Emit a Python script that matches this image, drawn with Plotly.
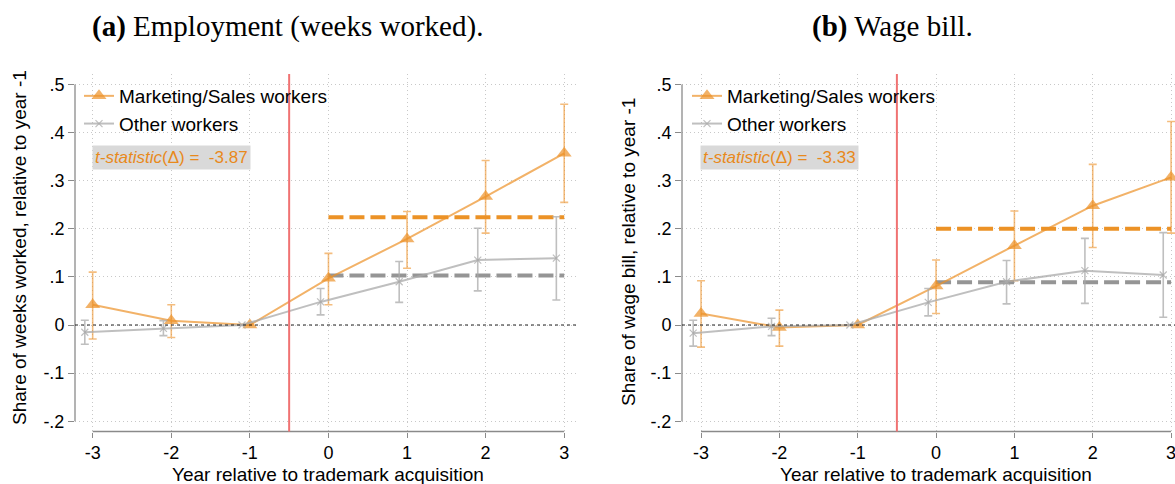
import plotly.graph_objects as go

# Event-time grid
years = [-3, -2, -1, 0, 1, 2, 3]

# (a) Employment: share of weeks worked relative to year -1
emp_mkt = [0.042, 0.009, 0.0, 0.097, 0.179, 0.267, 0.357]
emp_mkt_hi = [0.110, 0.042, 0.0, 0.149, 0.236, 0.342, 0.459]
emp_mkt_lo = [-0.029, -0.026, 0.0, 0.042, 0.118, 0.191, 0.255]
emp_oth = [-0.015, -0.007, 0.0, 0.048, 0.090, 0.135, 0.139]
emp_oth_hi = [0.010, 0.009, 0.0, 0.076, 0.132, 0.201, 0.225]
emp_oth_lo = [-0.040, -0.022, 0.0, 0.021, 0.047, 0.071, 0.052]
emp_avg_mkt = 0.224
emp_avg_oth = 0.103
emp_tstat = "-3.87"

# (b) Wage bill: share of wage bill relative to year -1
wage_mkt = [0.024, -0.005, 0.0, 0.081, 0.165, 0.248, 0.307]
wage_mkt_hi = [0.092, 0.031, 0.0, 0.135, 0.237, 0.334, 0.423]
wage_mkt_lo = [-0.046, -0.044, 0.0, 0.024, 0.092, 0.161, 0.191]
wage_oth = [-0.017, -0.003, 0.0, 0.047, 0.090, 0.113, 0.104]
wage_oth_hi = [0.010, 0.014, 0.0, 0.076, 0.134, 0.180, 0.192]
wage_oth_lo = [-0.044, -0.022, 0.0, 0.019, 0.044, 0.045, 0.016]
wage_avg_mkt = 0.200
wage_avg_oth = 0.089
wage_tstat = "-3.33"

y_ticks = [-0.2, -0.1, 0, 0.1, 0.2, 0.3, 0.4, 0.5]
y_ticktext = ["-.2", "-.1", "0", ".1", ".2", ".3", ".4", ".5"]
x_ticktext = ["-3", "-2", "-1", "0", "1", "2", "3"]

W, H = 1175, 484
ORANGE = "rgba(236,145,40,0.70)"
ORANGE_BAR = "rgba(236,145,40,0.60)"
ORANGE_DASH = "#EC9226"
GRAY = "rgba(170,170,170,0.75)"
GRAY_DASH = "#959595"
AXIS = "#8a8a8a"
GRID = "#c8c8c8"
SANS = "Liberation Sans, Arial, sans-serif"
SERIF = "Liberation Serif, DejaVu Serif, serif"

def px_x(p):
    return p / W

def px_y(p):
    return 1 - p / H

fig = go.Figure()

panels = [
    dict(xa="x", ya="y", legend="legend", mkt=emp_mkt, mhi=emp_mkt_hi, mlo=emp_mkt_lo,
         oth=emp_oth, ohi=emp_oth_hi, olo=emp_oth_lo, am=emp_avg_mkt, ao=emp_avg_oth),
    dict(xa="x2", ya="y2", legend="legend2", mkt=wage_mkt, mhi=wage_mkt_hi, mlo=wage_mkt_lo,
         oth=wage_oth, ohi=wage_oth_hi, olo=wage_oth_lo, am=wage_avg_mkt, ao=wage_avg_oth),
]

shift = 0.1  # other-worker series drawn slightly to the left
for p in panels:
    x_oth = [x - shift for x in years]
    # post-period averages
    fig.add_trace(go.Scatter(
        x=[0, 3], y=[p["am"], p["am"]], mode="lines", xaxis=p["xa"], yaxis=p["ya"],
        line=dict(color=ORANGE_DASH, width=4, dash="15px,6px"), showlegend=False,
        hoverinfo="skip"))
    fig.add_trace(go.Scatter(
        x=[0, 3], y=[p["ao"], p["ao"]], mode="lines", xaxis=p["xa"], yaxis=p["ya"],
        line=dict(color=GRAY_DASH, width=4, dash="15px,6px"), showlegend=False,
        hoverinfo="skip"))
    fig.add_trace(go.Scatter(
        x=years, y=p["mkt"], mode="lines+markers", name="Marketing/Sales workers",
        xaxis=p["xa"], yaxis=p["ya"], legend=p["legend"],
        line=dict(color=ORANGE, width=2),
        marker=dict(symbol="triangle-up", size=13, color=ORANGE),
        error_y=dict(type="data", symmetric=False,
                     array=[h - m for h, m in zip(p["mhi"], p["mkt"])],
                     arrayminus=[m - l for m, l in zip(p["mkt"], p["mlo"])],
                     color=ORANGE_BAR, thickness=1.6, width=4)))
    fig.add_trace(go.Scatter(
        x=x_oth, y=p["oth"], mode="lines+markers", name="Other workers",
        xaxis=p["xa"], yaxis=p["ya"], legend=p["legend"],
        line=dict(color=GRAY, width=2),
        marker=dict(symbol="x-thin", size=7, line=dict(color=GRAY, width=1.2), color=GRAY),
        error_y=dict(type="data", symmetric=False,
                     array=[h - m for h, m in zip(p["ohi"], p["oth"])],
                     arrayminus=[m - l for m, l in zip(p["oth"], p["olo"])],
                     color=GRAY, thickness=1.6, width=4)))

ydom = [px_y(431.5), px_y(74)]
yrange = [-0.2214, 0.5218]
common_x = dict(tickvals=years, ticktext=x_ticktext, ticks="outside", ticklen=5,
                tickcolor=AXIS, tickwidth=1, showline=False, zeroline=False,
                showgrid=True, gridcolor=GRID, griddash="1px,3px", gridwidth=1,
                ticklabeloverflow="allow",
                tickfont=dict(family=SANS, size=18, color="black"), fixedrange=True)
common_y = dict(tickvals=y_ticks, ticktext=y_ticktext, ticks="outside", ticklen=6,
                tickcolor=AXIS, tickwidth=1, showline=False, zeroline=False,
                showgrid=True, gridcolor=GRID, griddash="1px,3px", gridwidth=1,
                range=yrange, domain=ydom,
                tickfont=dict(family=SANS, size=18, color="black"), fixedrange=True)

fig.update_layout(
    width=W, height=H, margin=dict(l=0, r=0, t=0, b=0),
    paper_bgcolor="white", plot_bgcolor="white",
    xaxis=dict(domain=[px_x(75), px_x(576)], range=[-3.225, 3.15], anchor="y", **common_x),
    yaxis=dict(anchor="x", **common_y),
    xaxis2=dict(domain=[px_x(682), 1.0], range=[-3.243, 3.05], anchor="y2", **common_x),
    yaxis2=dict(anchor="x2", **common_y),
    legend=dict(x=px_x(79), y=px_y(77), xanchor="left", yanchor="top",
                bgcolor="rgba(0,0,0,0)", font=dict(family=SANS, size=19, color="black"),
                tracegroupgap=0, itemwidth=30),
    legend2=dict(x=px_x(687), y=px_y(77), xanchor="left", yanchor="top",
                 bgcolor="rgba(0,0,0,0)", font=dict(family=SANS, size=19, color="black"),
                 tracegroupgap=0, itemwidth=30),
)

shapes = []
for xa, ya in [("x", "y"), ("x2", "y2")]:
    # axis lines spanning only the labelled range
    shapes.append(dict(type="line", xref=f"{xa} domain", x0=0, x1=0, yref=ya, y0=-0.2, y1=0.5,
                       line=dict(color=AXIS, width=1.3)))
    shapes.append(dict(type="line", xref=xa, x0=-3, x1=3, yref=f"{ya} domain", y0=0, y1=0,
                       line=dict(color=AXIS, width=1.3)))
    # zero reference and treatment timing
    shapes.append(dict(type="line", xref=f"{xa} domain", x0=0, x1=1, yref=ya, y0=0, y1=0,
                       line=dict(color="#222222", width=1.2, dash="3px,3px"), layer="above"))
    shapes.append(dict(type="line", xref=xa, x0=-0.5, x1=-0.5, yref=f"{ya} domain", y0=0, y1=1,
                       line=dict(color="#F07272", width=2)))
fig.update_layout(shapes=shapes)

annotations = [
    dict(text="<b>(a)</b> Employment (weeks worked).", x=px_x(287), y=px_y(27),
         font=dict(family=SERIF, size=29, color="black")),
    dict(text="<b>(b)</b> Wage bill.", x=px_x(892), y=px_y(27),
         font=dict(family=SERIF, size=29, color="black")),
    dict(text="Share of weeks worked, relative to year -1", x=px_x(20), y=px_y(248),
         textangle=-90, font=dict(family=SANS, size=19, color="black")),
    dict(text="Share of wage bill, relative to year -1", x=px_x(628), y=px_y(252),
         textangle=-90, font=dict(family=SANS, size=19, color="black")),
    dict(text="Year relative to trademark acquisition", x=px_x(328), y=px_y(474),
         font=dict(family=SANS, size=19, color="black")),
    dict(text="Year relative to trademark acquisition", x=px_x(936), y=px_y(474),
         font=dict(family=SANS, size=19, color="black")),
    dict(text=f"<i>t-statistic</i>(Δ) = &nbsp;{emp_tstat}", x=px_x(171), y=px_y(157),
         bgcolor="#d9d9d9", borderpad=2, font=dict(family=SANS, size=17, color="#E8891C")),
    dict(text=f"<i>t-statistic</i>(Δ) = &nbsp;{wage_tstat}", x=px_x(779), y=px_y(157),
         bgcolor="#d9d9d9", borderpad=2, font=dict(family=SANS, size=17, color="#E8891C")),
]
for a in annotations:
    a.update(xref="paper", yref="paper", showarrow=False, xanchor="center", yanchor="middle")
fig.update_layout(annotations=annotations)

fig.write_html("out.html")
